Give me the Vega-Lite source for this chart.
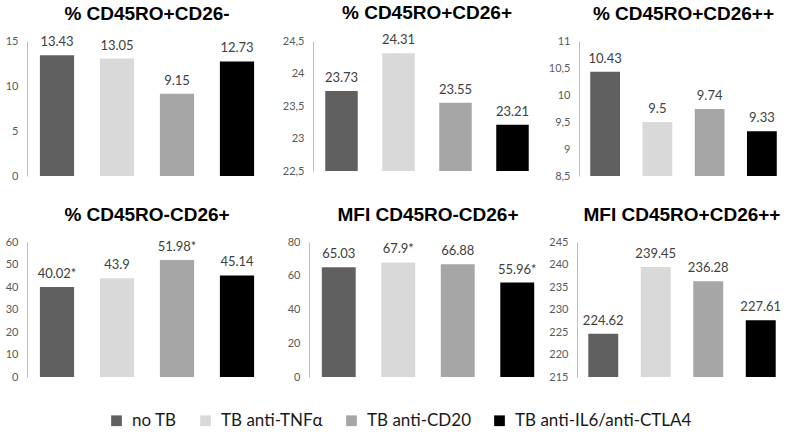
{
  "$schema": "https://vega.github.io/schema/vega-lite/v6.json",
  "padding": {"left": 5, "top": 4, "right": 0, "bottom": 0},
  "background": "white",
  "datasets": {
    "d": [
      {"panel": "p1", "group": "no TB", "value": 13.43, "label": "13.43"},
      {"panel": "p1", "group": "TB anti-TNFα", "value": 13.05, "label": "13.05"},
      {"panel": "p1", "group": "TB anti-CD20", "value": 9.15, "label": "9.15"},
      {"panel": "p1", "group": "TB anti-IL6/anti-CTLA4", "value": 12.73, "label": "12.73"},
      {"panel": "p2", "group": "no TB", "value": 23.73, "label": "23.73"},
      {"panel": "p2", "group": "TB anti-TNFα", "value": 24.31, "label": "24.31"},
      {"panel": "p2", "group": "TB anti-CD20", "value": 23.55, "label": "23.55"},
      {"panel": "p2", "group": "TB anti-IL6/anti-CTLA4", "value": 23.21, "label": "23.21"},
      {"panel": "p3", "group": "no TB", "value": 10.43, "label": "10.43"},
      {"panel": "p3", "group": "TB anti-TNFα", "value": 9.5, "label": "9.5"},
      {"panel": "p3", "group": "TB anti-CD20", "value": 9.74, "label": "9.74"},
      {"panel": "p3", "group": "TB anti-IL6/anti-CTLA4", "value": 9.33, "label": "9.33"},
      {"panel": "p4", "group": "no TB", "value": 40.02, "label": "40.02*"},
      {"panel": "p4", "group": "TB anti-TNFα", "value": 43.9, "label": "43.9"},
      {"panel": "p4", "group": "TB anti-CD20", "value": 51.98, "label": "51.98*"},
      {"panel": "p4", "group": "TB anti-IL6/anti-CTLA4", "value": 45.14, "label": "45.14"},
      {"panel": "p5", "group": "no TB", "value": 65.03, "label": "65.03"},
      {"panel": "p5", "group": "TB anti-TNFα", "value": 67.9, "label": "67.9*"},
      {"panel": "p5", "group": "TB anti-CD20", "value": 66.88, "label": "66.88"},
      {"panel": "p5", "group": "TB anti-IL6/anti-CTLA4", "value": 55.96, "label": "55.96*"},
      {"panel": "p6", "group": "no TB", "value": 224.62, "label": "224.62"},
      {"panel": "p6", "group": "TB anti-TNFα", "value": 239.45, "label": "239.45"},
      {"panel": "p6", "group": "TB anti-CD20", "value": 236.28, "label": "236.28"},
      {"panel": "p6", "group": "TB anti-IL6/anti-CTLA4", "value": 227.61, "label": "227.61"}
    ]
  },
  "data": {"name": "d"},
  "spacing": 25,
  "vconcat": [
    {
      "spacing": 0,
      "hconcat": [
        {
          "title": {"text": "% CD45RO+CD26-", "fontSize": 19, "offset": 11},
          "width": 240, "height": 135,
          "transform": [{"filter": "datum.panel === 'p1'"}],
          "encoding": {
            "x": {"field": "group", "type": "nominal", "sort": ["no TB", "TB anti-TNFα", "TB anti-CD20", "TB anti-IL6/anti-CTLA4"], "axis": null, "scale": {"paddingInner": 0.43, "paddingOuter": 0.215}},
            "y": {"field": "value", "type": "quantitative", "scale": {"domain": [0, 15], "nice": false, "zero": false}, "axis": {"title": null, "values": [0, 5, 10, 15], "minExtent": 22}}
          },
          "layer": [
            {"mark": "bar", "encoding": {"y2": {"datum": 0}, "color": {"field": "group", "type": "nominal", "sort": ["no TB", "TB anti-TNFα", "TB anti-CD20", "TB anti-IL6/anti-CTLA4"], "scale": {"domain": ["no TB", "TB anti-TNFα", "TB anti-CD20", "TB anti-IL6/anti-CTLA4"], "range": ["#606060", "#d9d9d9", "#a6a6a6", "#000000"]}, "legend": {"orient": "none", "legendX": 81, "legendY": 371, "direction": "horizontal", "title": null, "labelFont": "Lato", "labelFontSize": 17, "labelLimit": 400, "labelColor": "#1a1a1a", "symbolType": "square", "symbolSize": 115, "symbolStrokeWidth": 0, "symbolOpacity": 1, "columnPadding": 20, "labelOffset": 7}}}},
            {"mark": {"type": "text", "dy": -13}, "encoding": {"text": {"field": "label"}}}
          ]
        },
        {
          "title": {"text": "% CD45RO+CD26+", "fontSize": 19, "offset": 11},
          "width": 228, "height": 130,
          "transform": [{"filter": "datum.panel === 'p2'"}],
          "encoding": {
            "x": {"field": "group", "type": "nominal", "sort": ["no TB", "TB anti-TNFα", "TB anti-CD20", "TB anti-IL6/anti-CTLA4"], "axis": null, "scale": {"paddingInner": 0.43, "paddingOuter": 0.215}},
            "y": {"field": "value", "type": "quantitative", "scale": {"domain": [22.5, 24.5], "nice": false, "zero": false}, "axis": {"title": null, "values": [22.5, 23, 23.5, 24, 24.5], "minExtent": 46}}
          },
          "layer": [
            {"mark": "bar", "encoding": {"y2": {"datum": 22.5}, "color": {"field": "group", "type": "nominal", "sort": ["no TB", "TB anti-TNFα", "TB anti-CD20", "TB anti-IL6/anti-CTLA4"], "scale": {"domain": ["no TB", "TB anti-TNFα", "TB anti-CD20", "TB anti-IL6/anti-CTLA4"], "range": ["#606060", "#d9d9d9", "#a6a6a6", "#000000"]}, "legend": {"orient": "none", "legendX": 81, "legendY": 371, "direction": "horizontal", "title": null, "labelFont": "Lato", "labelFontSize": 17, "labelLimit": 400, "labelColor": "#1a1a1a", "symbolType": "square", "symbolSize": 115, "symbolStrokeWidth": 0, "symbolOpacity": 1, "columnPadding": 20, "labelOffset": 7}}}},
            {"mark": {"type": "text", "dy": -13}, "encoding": {"text": {"field": "label"}}}
          ]
        },
        {
          "title": {"text": "% CD45RO+CD26++", "fontSize": 19, "offset": 11},
          "width": 209, "height": 135,
          "transform": [{"filter": "datum.panel === 'p3'"}],
          "encoding": {
            "x": {"field": "group", "type": "nominal", "sort": ["no TB", "TB anti-TNFα", "TB anti-CD20", "TB anti-IL6/anti-CTLA4"], "axis": null, "scale": {"paddingInner": 0.43, "paddingOuter": 0.215}},
            "y": {"field": "value", "type": "quantitative", "scale": {"domain": [8.5, 11], "nice": false, "zero": false}, "axis": {"title": null, "values": [8.5, 9, 9.5, 10, 10.5, 11], "minExtent": 38}}
          },
          "layer": [
            {"mark": "bar", "encoding": {"y2": {"datum": 8.5}, "color": {"field": "group", "type": "nominal", "sort": ["no TB", "TB anti-TNFα", "TB anti-CD20", "TB anti-IL6/anti-CTLA4"], "scale": {"domain": ["no TB", "TB anti-TNFα", "TB anti-CD20", "TB anti-IL6/anti-CTLA4"], "range": ["#606060", "#d9d9d9", "#a6a6a6", "#000000"]}, "legend": {"orient": "none", "legendX": 81, "legendY": 371, "direction": "horizontal", "title": null, "labelFont": "Lato", "labelFontSize": 17, "labelLimit": 400, "labelColor": "#1a1a1a", "symbolType": "square", "symbolSize": 115, "symbolStrokeWidth": 0, "symbolOpacity": 1, "columnPadding": 20, "labelOffset": 7}}}},
            {"mark": {"type": "text", "dy": -13}, "encoding": {"text": {"field": "label"}}}
          ]
        }
      ]
    },
    {
      "spacing": 0,
      "hconcat": [
        {
          "title": {"text": "% CD45RO-CD26+", "fontSize": 19, "offset": 11},
          "width": 240, "height": 135,
          "transform": [{"filter": "datum.panel === 'p4'"}],
          "encoding": {
            "x": {"field": "group", "type": "nominal", "sort": ["no TB", "TB anti-TNFα", "TB anti-CD20", "TB anti-IL6/anti-CTLA4"], "axis": null, "scale": {"paddingInner": 0.43, "paddingOuter": 0.215}},
            "y": {"field": "value", "type": "quantitative", "scale": {"domain": [0, 60], "nice": false, "zero": false}, "axis": {"title": null, "values": [0, 10, 20, 30, 40, 50, 60], "minExtent": 22}}
          },
          "layer": [
            {"mark": "bar", "encoding": {"y2": {"datum": 0}, "color": {"field": "group", "type": "nominal", "sort": ["no TB", "TB anti-TNFα", "TB anti-CD20", "TB anti-IL6/anti-CTLA4"], "scale": {"domain": ["no TB", "TB anti-TNFα", "TB anti-CD20", "TB anti-IL6/anti-CTLA4"], "range": ["#606060", "#d9d9d9", "#a6a6a6", "#000000"]}, "legend": {"orient": "none", "legendX": 81, "legendY": 371, "direction": "horizontal", "title": null, "labelFont": "Lato", "labelFontSize": 17, "labelLimit": 400, "labelColor": "#1a1a1a", "symbolType": "square", "symbolSize": 115, "symbolStrokeWidth": 0, "symbolOpacity": 1, "columnPadding": 20, "labelOffset": 7}}}},
            {"mark": {"type": "text", "dy": -13}, "encoding": {"text": {"field": "label"}}}
          ]
        },
        {
          "title": {"text": "MFI CD45RO-CD26+", "fontSize": 19, "offset": 11},
          "width": 238, "height": 135,
          "transform": [{"filter": "datum.panel === 'p5'"}],
          "encoding": {
            "x": {"field": "group", "type": "nominal", "sort": ["no TB", "TB anti-TNFα", "TB anti-CD20", "TB anti-IL6/anti-CTLA4"], "axis": null, "scale": {"paddingInner": 0.43, "paddingOuter": 0.215}},
            "y": {"field": "value", "type": "quantitative", "scale": {"domain": [0, 80], "nice": false, "zero": false}, "axis": {"title": null, "values": [0, 20, 40, 60, 80], "minExtent": 42}}
          },
          "layer": [
            {"mark": "bar", "encoding": {"y2": {"datum": 0}, "color": {"field": "group", "type": "nominal", "sort": ["no TB", "TB anti-TNFα", "TB anti-CD20", "TB anti-IL6/anti-CTLA4"], "scale": {"domain": ["no TB", "TB anti-TNFα", "TB anti-CD20", "TB anti-IL6/anti-CTLA4"], "range": ["#606060", "#d9d9d9", "#a6a6a6", "#000000"]}, "legend": {"orient": "none", "legendX": 81, "legendY": 371, "direction": "horizontal", "title": null, "labelFont": "Lato", "labelFontSize": 17, "labelLimit": 400, "labelColor": "#1a1a1a", "symbolType": "square", "symbolSize": 115, "symbolStrokeWidth": 0, "symbolOpacity": 1, "columnPadding": 20, "labelOffset": 7}}}},
            {"mark": {"type": "text", "dy": -13}, "encoding": {"text": {"field": "label"}}}
          ]
        },
        {
          "title": {"text": "MFI CD45RO+CD26++", "fontSize": 19, "offset": 11},
          "width": 210, "height": 135,
          "transform": [{"filter": "datum.panel === 'p6'"}],
          "encoding": {
            "x": {"field": "group", "type": "nominal", "sort": ["no TB", "TB anti-TNFα", "TB anti-CD20", "TB anti-IL6/anti-CTLA4"], "axis": null, "scale": {"paddingInner": 0.43, "paddingOuter": 0.215}},
            "y": {"field": "value", "type": "quantitative", "scale": {"domain": [215, 245], "nice": false, "zero": false}, "axis": {"title": null, "values": [215, 220, 225, 230, 235, 240, 245], "minExtent": 30}}
          },
          "layer": [
            {"mark": "bar", "encoding": {"y2": {"datum": 215}, "color": {"field": "group", "type": "nominal", "sort": ["no TB", "TB anti-TNFα", "TB anti-CD20", "TB anti-IL6/anti-CTLA4"], "scale": {"domain": ["no TB", "TB anti-TNFα", "TB anti-CD20", "TB anti-IL6/anti-CTLA4"], "range": ["#606060", "#d9d9d9", "#a6a6a6", "#000000"]}, "legend": {"orient": "none", "legendX": 81, "legendY": 371, "direction": "horizontal", "title": null, "labelFont": "Lato", "labelFontSize": 17, "labelLimit": 400, "labelColor": "#1a1a1a", "symbolType": "square", "symbolSize": 115, "symbolStrokeWidth": 0, "symbolOpacity": 1, "columnPadding": 20, "labelOffset": 7}}}},
            {"mark": {"type": "text", "dy": -13}, "encoding": {"text": {"field": "label"}}}
          ]
        }
      ]
    }
  ],
  "config": {
    "view": {"stroke": null},
    "title": {"font": "Liberation Sans", "fontSize": 19, "fontWeight": "bold", "color": "#000000"},
    "style": {"group-title": {"font": "Liberation Sans", "fontSize": 19, "fontWeight": "bold", "fill": "#000000"}},
    "axis": {"domainColor": "#bfbfbf", "ticks": false, "grid": false, "labelColor": "#595959", "labelFont": "Lato", "labelFontSize": 11, "labelPadding": 9, "labelExpr": "replace(format(datum.value, '~g'), '.', ',')"},
    "text": {"font": "Lato", "fontSize": 13, "color": "#404040"}
  }
}
